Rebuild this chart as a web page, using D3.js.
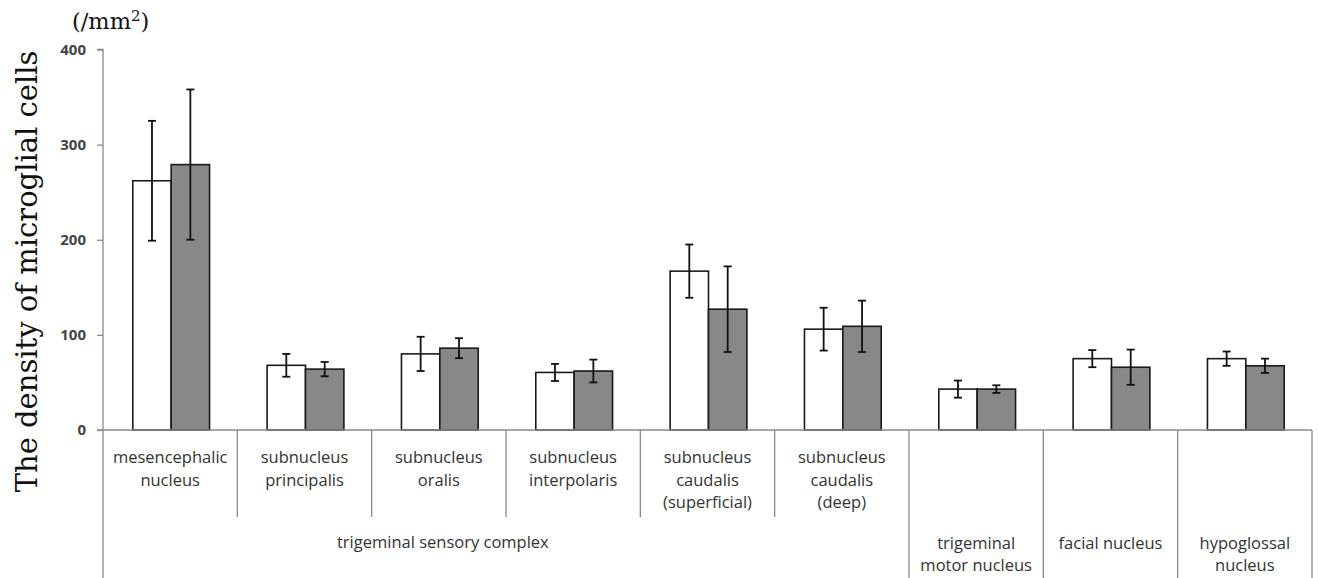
<!DOCTYPE html>
<html>
<head>
<meta charset="utf-8">
<script src="https://cdn.jsdelivr.net/npm/d3@7"></script>
<style>
  html, body { margin: 0; padding: 0; background: #fff; }
  svg { display: block; }
</style>
</head>
<body>
<svg id="chart" width="1319" height="578"></svg>
<script>
// Category labels (one entry per line of text)
const categoryLabels = [
  ["mesencephalic", "nucleus"],
  ["subnucleus", "principalis"],
  ["subnucleus", "oralis"],
  ["subnucleus", "interpolaris"],
  ["subnucleus", "caudalis", "(superficial)"],
  ["subnucleus", "caudalis", "(deep)"],
  ["trigeminal", "motor nucleus"],
  ["facial nucleus"],
  ["hypoglossal", "nucleus"]
];
const categories = categoryLabels.map(l => l.join(" "));
// Outer grouping level: first six nuclei belong to the sensory complex
const categoryGroup = [
  "trigeminal sensory complex", "trigeminal sensory complex", "trigeminal sensory complex",
  "trigeminal sensory complex", "trigeminal sensory complex", "trigeminal sensory complex",
  null, null, null
];

// Density means and error (SD) for the two series
const whiteMean = [262, 68, 80, 60.5, 167, 106, 43, 75, 75];
const whiteErr  = [63, 12, 18, 9, 28, 22.5, 9, 9, 7.5];
const grayMean  = [279, 64, 86, 62, 127, 109, 43, 66, 67.5];
const grayErr   = [79, 7.5, 10.5, 12, 45, 27, 4, 18.5, 7.5];

const yTicks = [0, 100, 200, 300, 400];

const svg = d3.select("#chart");
const W = 1319, H = 578;
const plotLeft = 103, plotRight = 1312, plotTop = 49.5, plotBase = 430;

const axisColor = "#8a8a8a";
const textColor = "#333333";

const x = d3.scaleBand().domain(categories).range([plotLeft, plotRight]).padding(0);
const y = d3.scaleLinear().domain([0, 400]).range([plotBase, plotTop]);

const bw = x.bandwidth();
const barW = bw / 3.5;            // 150% gap between clusters
const inner = d3.scaleBand().domain(["white", "gray"]).range([0, 2 * barW]);
const clusterOffset = (bw - 2 * barW) / 2 + 1;

// Y axis
const yAxis = d3.axisLeft(y).tickValues(yTicks).tickSize(6).tickPadding(11);
const gy = svg.append("g").attr("transform", `translate(${plotLeft},0)`).call(yAxis);
gy.select(".domain").attr("stroke", axisColor).attr("stroke-width", 1.3)
  .attr("d", `M-6,${plotTop}H0V${plotBase}`);
gy.selectAll(".tick line").attr("stroke", axisColor).attr("stroke-width", 1.3);
gy.selectAll(".tick text")
  .attr("fill", "#444")
  .style("font-family", "'Open Sans', Lato, sans-serif")
  .style("font-weight", "bold")
  .style("font-size", "15px");

// Bars
const series = [
  { key: "white", mean: whiteMean, err: whiteErr, fill: "#ffffff" },
  { key: "gray",  mean: grayMean,  err: grayErr,  fill: "#888888" }
];

const gBars = svg.append("g");
series.forEach(s => {
  const g = gBars.append("g");
  g.selectAll("rect")
    .data(categories)
    .join("rect")
    .attr("x", (c) => x(c) + clusterOffset + inner(s.key))
    .attr("y", (c, i) => y(s.mean[i]))
    .attr("width", inner.bandwidth())
    .attr("height", (c, i) => plotBase - y(s.mean[i]))
    .attr("fill", s.fill)
    .attr("stroke", "#1a1a1a")
    .attr("stroke-width", 1.6);
});

// Error bars
series.forEach(s => {
  const g = gBars.append("g").attr("stroke", "#111").attr("stroke-width", 1.8).attr("fill", "none");
  categories.forEach((c, i) => {
    const cx = x(c) + clusterOffset + inner(s.key) + inner.bandwidth() / 2;
    const hi = y(s.mean[i] + s.err[i]);
    const lo = y(s.mean[i] - s.err[i]);
    g.append("line").attr("x1", cx).attr("x2", cx).attr("y1", hi).attr("y2", lo);
    g.append("line").attr("x1", cx - 4).attr("x2", cx + 4).attr("y1", hi).attr("y2", hi);
    g.append("line").attr("x1", cx - 4).attr("x2", cx + 4).attr("y1", lo).attr("y2", lo);
  });
});

// Category axis with nested group dividers
const gx = svg.append("g").attr("stroke", axisColor).attr("stroke-width", 1.3);
gx.append("line").attr("x1", plotLeft - 6).attr("x2", plotRight).attr("y1", plotBase).attr("y2", plotBase);
const innerRowBottom = 517;
const boundaries = categories.map(c => x(c)).concat([plotRight]);
boundaries.forEach((bx, i) => {
  // a divider inside a group only spans the inner row
  const sameGroup = i > 0 && i < categories.length &&
    categoryGroup[i] !== null && categoryGroup[i] === categoryGroup[i - 1];
  gx.append("line")
    .attr("x1", bx).attr("x2", bx)
    .attr("y1", plotBase).attr("y2", sameGroup ? innerRowBottom : H + 2);
});

const labelFont = "'Open Sans', 'Noto Sans', sans-serif";
const gLabels = svg.append("g")
  .attr("fill", textColor)
  .style("font-family", labelFont)
  .style("font-size", "16.5px")
  .attr("text-anchor", "middle");

const lineH = 22.5;
categoryLabels.forEach((lines, i) => {
  const cx = x(categories[i]) + bw / 2;
  const y0 = categoryGroup[i] !== null ? 456 : 541.5;
  const t = gLabels.append("text").attr("dominant-baseline", "central");
  lines.forEach((ln, k) => {
    t.append("tspan").attr("x", cx).attr("y", y0 + k * lineH).text(ln);
  });
});

// Group label
const groupName = "trigeminal sensory complex";
gLabels.append("text")
  .attr("x", x(categories[2]) + bw * 0.53)
  .attr("y", 541.5)
  .attr("dominant-baseline", "central")
  .text(groupName);

// Y axis title and unit
svg.append("text")
  .attr("transform", `translate(37, ${(53 + 490) / 2}) rotate(-90)`)
  .attr("text-anchor", "middle")
  .attr("fill", "#111")
  .style("font-family", "'DejaVu Serif', 'Liberation Serif', serif")
  .style("font-size", "29px")
  .text("The density of microglial cells");

const unit = svg.append("text")
  .attr("x", 72)
  .attr("y", 29)
  .attr("fill", "#111")
  .style("font-family", "'DejaVu Serif', 'Liberation Serif', serif")
  .style("font-size", "22.5px");
unit.append("tspan").text("(/mm");
unit.append("tspan").attr("dy", -8).style("font-size", "15px").text("2");
unit.append("tspan").attr("dy", 8).text(")");
</script>
</body>
</html>
